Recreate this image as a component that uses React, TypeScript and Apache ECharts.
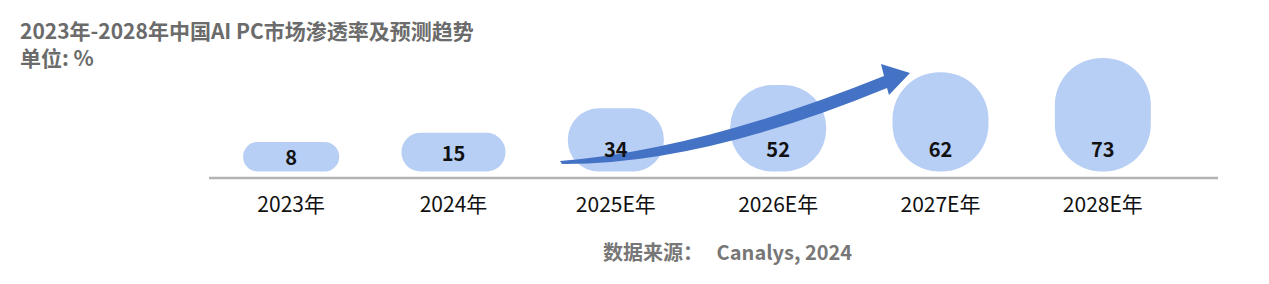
import React, { useEffect, useRef } from "react";
import * as echarts from "echarts";

const categories = ["2023年", "2024年", "2025E年", "2026E年", "2027E年", "2028E年"];
const penetration = [8, 15, 34, 52, 62, 73];
const titleText = "2023年-2028年中国AI PC市场渗透率及预测趋势";
const unitText = "单位: %";
const sourceText = "数据来源：   Canalys, 2024";

const ARROW_D =
  "M 560 161 Q 700 150 884 76 L 881 64 L 910 73 L 889 95 L 887 88 Q 700 165 562 164 Z";

const FONT = '"Noto Sans CJK SC", "Noto Sans", sans-serif';

export default function App() {
  const ref = useRef<HTMLDivElement>(null);
  useEffect(() => {
    document.body.style.margin = "0";
    const ArrowShape = echarts.graphic.extendPath(ARROW_D, {});
    echarts.graphic.registerShape("trendArrow", ArrowShape as any);
    const chart = echarts.init(ref.current!, null, { renderer: "svg" });
    const BASE = -15;
    const data = penetration.map((v, i) => [i, v]);
    chart.setOption({
      animation: false,
      grid: { left: 210, right: 85, top: 49, bottom: 106 },
      xAxis: {
        type: "category",
        data: categories,
        axisLine: { show: false },
        axisTick: { show: false },
        axisLabel: { margin: 14, fontSize: 21, color: "#111", fontFamily: FONT },
      },
      yAxis: { type: "value", min: -20, max: 80, show: false },
      series: [
        {
          type: "custom",
          z: 2,
          data,
          encode: { x: 0, y: 1 },
          renderItem: (params: any, api: any) => {
            const i = api.value(0);
            const v = api.value(1);
            const top = api.coord([i, v]);
            const bottom = api.coord([i, BASE]);
            const w = i === 1 ? 104 : 96;
            const h = bottom[1] - top[1];
            const r = (Math.min(w, h) / 2) * 0.98;
            return {
              type: "rect",
              shape: { x: top[0] - w / 2, y: top[1], width: w, height: h, r },
              style: { fill: "#b7cef5" },
            };
          },
        },
        {
          type: "custom",
          z: 5,
          data,
          encode: { x: 0, y: 1 },
          renderItem: (params: any, api: any) => {
            const i = api.value(0);
            const v = api.value(1);
            const top = api.coord([i, v]);
            const bottom = api.coord([i, BASE]);
            const cy = Math.max((top[1] + bottom[1]) / 2, bottom[1] - 23);
            return {
              type: "text",
              x: top[0],
              y: cy,
              style: {
                text: String(v),
                fontSize: 20,
                fontWeight: "bold",
                fontFamily: FONT,
                fill: "#111",
                align: "center",
                verticalAlign: "middle",
                textAlign: "center",
                textVerticalAlign: "middle",
              },
            };
          },
        },
      ],
      graphic: [
        {
          type: "text",
          x: 20,
          y: 30,
          style: {
            text: titleText,
            fontSize: 21,
            fontWeight: "bold",
            fontFamily: FONT,
            fill: "#6b6b6b",
            verticalAlign: "middle",
            textVerticalAlign: "middle",
          },
        },
        {
          type: "text",
          x: 20,
          y: 57,
          style: {
            text: unitText,
            fontSize: 21,
            fontWeight: "bold",
            fontFamily: FONT,
            fill: "#6b6b6b",
            verticalAlign: "middle",
            textVerticalAlign: "middle",
          },
        },
        {
          type: "text",
          x: 603,
          y: 251,
          style: {
            text: sourceText,
            fontSize: 20,
            fontWeight: "bold",
            fontFamily: FONT,
            fill: "#777777",
            verticalAlign: "middle",
            textVerticalAlign: "middle",
          },
        },
        {
          type: "line",
          shape: { x1: 209, y1: 178, x2: 1218, y2: 178 },
          style: { stroke: "#b3b3b3", lineWidth: 2.5 },
          z: 1,
        },
        {
          type: "trendArrow",
          x: 0,
          y: 0,
          z: 3,
          style: { fill: "#4472c4" },
        },
      ],
    });
    return () => chart.dispose();
  }, []);
  return <div ref={ref} style={{ width: 1269, height: 284 }} />;
}
